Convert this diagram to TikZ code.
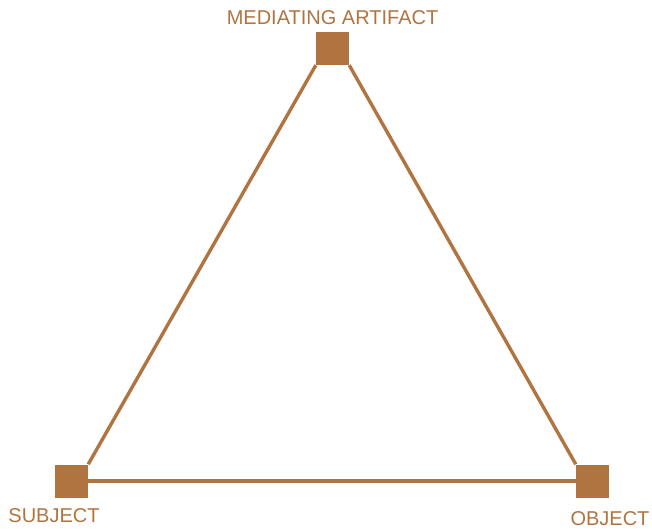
\documentclass[tikz,border=0pt]{standalone}
\usepackage{fontspec}
\setmainfont{Liberation Sans}
\definecolor{triBrown}{RGB}{176,116,64}
\tikzset{
  cornerbox/.style={fill=triBrown, minimum size=33pt, inner sep=0pt},
  namelabel/.style={anchor=base, text=triBrown, inner sep=0pt, font=\fontsize{20}{24}\selectfont}
}
\begin{document}
\begin{tikzpicture}[x=1pt, y=-1pt]
    \useasboundingbox (0,0) rectangle (652,529);
    % The corners
    \node (art) [cornerbox] at (332.5,48.5) {};
    \node (subj) [cornerbox] at (71.5,481) {};
    \node (obj) [cornerbox] at (592.5,481) {};

    \draw[triBrown, line width=3.4pt] (art.south west) -- (subj.north east);
    \draw[triBrown, line width=3.4pt] (art.south east) -- (obj.north west);
    \draw[triBrown, line width=3.4pt] (subj.east) -- (obj.west);

    \node (artname) [namelabel] at (332.5,24.5) {MEDIATING ARTIFACT};
    \node (subjname) [namelabel] at (54,522) {SUBJECT};
    \node (objname) [namelabel] at (610,525) {OBJECT};
\end{tikzpicture}
\end{document}
